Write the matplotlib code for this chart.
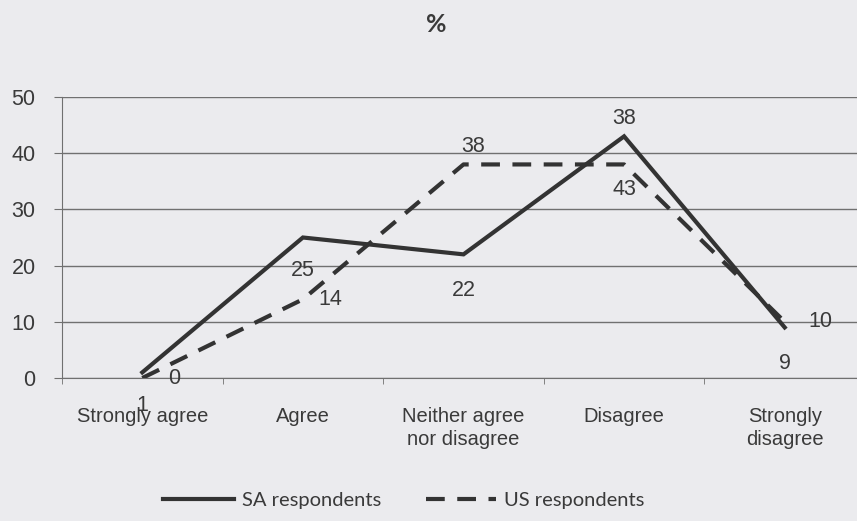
import numpy as np
import matplotlib.pyplot as plt

categories = ["Strongly agree", "Agree", "Neither agree\nnor disagree", "Disagree", "Strongly\ndisagree"]
sa_values = [1, 25, 22, 43, 9]
us_values = [0, 14, 38, 38, 10]

# data labels as printed on the original chart
sa_labels = ["1", "25", "22", "38", "9"]
us_labels = ["0", "14", "38", "43", "10"]

bg = "#ebebee"
ink = "#333333"
txt = "#3a3a3a"

fig = plt.figure(figsize=(8.57, 5.21), dpi=100, facecolor=bg)
ax = fig.add_axes([62/857, 143/521, (865-62)/857, 281/521])
ax.set_facecolor(bg)

x = np.arange(len(categories))
ax.plot(x, sa_values, color=ink, lw=3.0, solid_joinstyle="miter", label="SA respondents")
ax.plot(x, us_values, color=ink, lw=3.0, dashes=(4.5, 3), label="US respondents")

ax.set_xlim(-0.5, 4.5)
ax.set_ylim(0, 50)
ax.set_yticks([0, 10, 20, 30, 40, 50])
ax.yaxis.grid(True, color="#707070", lw=1.0)
ax.set_axisbelow(True)
for s in ["top", "right"]:
    ax.spines[s].set_visible(False)
ax.spines["left"].set_color("#707070")
ax.spines["bottom"].set_color("#707070")
ax.tick_params(axis="y", length=6, color="#707070", pad=13, labelsize=15.5, labelcolor=txt)
ax.set_xticks(x)
ax.set_xticks(np.arange(-0.5, 4.6, 1), minor=True)
ax.tick_params(axis="x", which="major", length=0, pad=21, labelsize=14.5, labelcolor=txt)
ax.tick_params(axis="x", which="minor", length=4, color="#707070")
ax.set_xticklabels(categories, fontfamily="Liberation Sans", linespacing=1.25)
for lab in ax.get_yticklabels():
    lab.set_fontfamily("Liberation Sans")

# label offsets in points (dx, dy)
sa_off = [(0, -24), (0, -24), (0, -26), (0, 13), (0, -26)]
us_off = [(23, 0), (20, 0), (7, 13), (0, -18), (26, 0)]
for i in range(len(categories)):
    ax.annotate(sa_labels[i], (x[i], sa_values[i]), xytext=sa_off[i], textcoords="offset points",
                ha="center", va="center", fontsize=15.5, color=txt, fontfamily="Liberation Sans")
    ax.annotate(us_labels[i], (x[i], us_values[i]), xytext=us_off[i], textcoords="offset points",
                ha="center", va="center", fontsize=15.5, color=txt, fontfamily="Liberation Sans")

fig.text(436/857, 1 - 25/521, "%", ha="center", va="center", fontsize=18,
         fontweight="bold", color=txt, fontfamily="Lato")

leg = fig.legend(loc="center", bbox_to_anchor=(404/857, 1 - 500/521), ncol=2, frameon=False,
                 handlelength=3.5, columnspacing=2.2, handletextpad=0.4,
                 prop={"family": "Lato", "size": 14.5})
for t in leg.get_texts():
    t.set_color(txt)

fig.savefig("out.png", dpi=100, facecolor=bg)
